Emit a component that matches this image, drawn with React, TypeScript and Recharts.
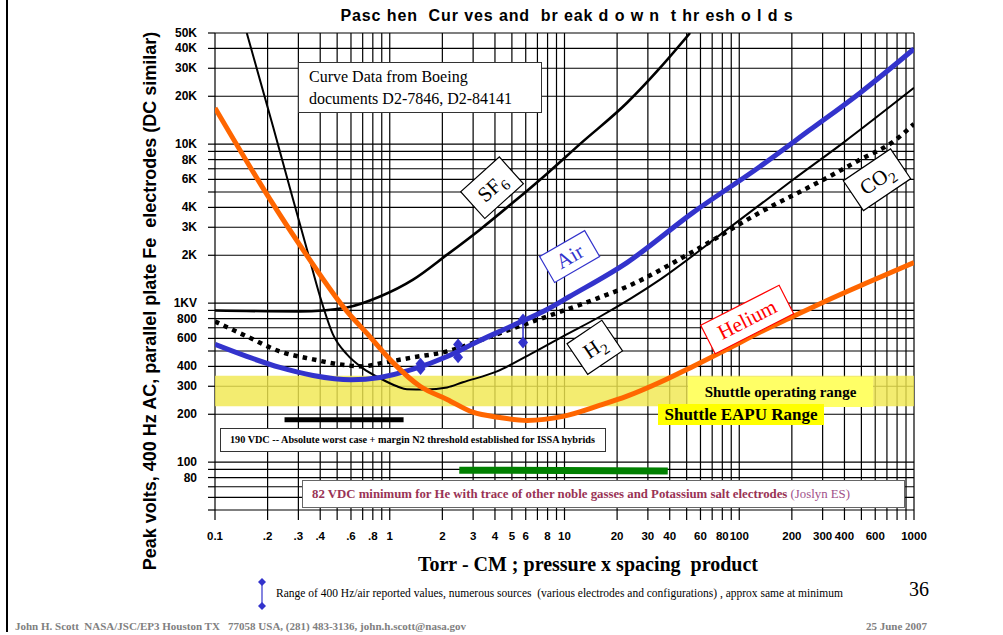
import React from "react";
import {
  LineChart,
  Line,
  XAxis,
  YAxis,
  CartesianGrid,
  ReferenceArea,
  ReferenceDot,
} from "recharts";

// Paschen curves (x = Torr-cm, y = peak volts)
const helium = [
  { x: 0.1, y: 16900 }, { x: 0.207, y: 4475 }, { x: 0.327, y: 2080 },
  { x: 0.569, y: 887 }, { x: 0.741, y: 645 }, { x: 1.04, y: 424 },
  { x: 1.49, y: 300 }, { x: 2.13, y: 248 }, { x: 2.99, y: 206 },
  { x: 4.27, y: 191 }, { x: 6.1, y: 183 }, { x: 9.8, y: 194 },
  { x: 16, y: 228 }, { x: 22.8, y: 260 }, { x: 35.2, y: 318 },
  { x: 54.3, y: 400 }, { x: 85, y: 512 }, { x: 131, y: 655 },
  { x: 203, y: 824 }, { x: 318, y: 1040 }, { x: 560, y: 1368 }, { x: 1000, y: 1800 },
];

const hydrogen = [
  { x: 0.152, y: 50000 }, { x: 0.215, y: 12850 }, { x: 0.268, y: 5320 },
  { x: 0.336, y: 2175 }, { x: 0.399, y: 1101 }, { x: 0.473, y: 636 },
  { x: 0.569, y: 476 }, { x: 0.703, y: 389 }, { x: 0.879, y: 337 },
  { x: 1.1, y: 300 }, { x: 1.255, y: 287 }, { x: 1.6, y: 286 },
  { x: 2.13, y: 295 }, { x: 2.62, y: 318 },
  { x: 4.11, y: 372 }, { x: 6.35, y: 476 }, { x: 9.8, y: 618 },
  { x: 16, y: 824 }, { x: 35.2, y: 1406 }, { x: 85, y: 2898 },
  { x: 203, y: 5970 }, { x: 393, y: 10190 }, { x: 1000, y: 22600 },
];

const sf6 = [
  { x: 0.1, y: 899 }, { x: 0.306, y: 887 }, { x: 0.569, y: 940 },
  { x: 0.879, y: 1101 }, { x: 1.36, y: 1406 }, { x: 2.13, y: 2018 },
  { x: 3.28, y: 2898 }, { x: 5.07, y: 4288 }, { x: 7.94, y: 6520 },
  { x: 12.3, y: 10040 }, { x: 22.8, y: 18200 }, { x: 35.2, y: 30150 },
  { x: 52.3, y: 50000 },
];

const air = [
  { x: 0.1, y: 550 }, { x: 0.152, y: 462 }, { x: 0.235, y: 394 },
  { x: 0.364, y: 351 }, { x: 0.6, y: 330 },
  { x: 0.879, y: 341 }, { x: 1.36, y: 384 }, { x: 2.13, y: 462 },
  { x: 3.28, y: 583 }, { x: 5.07, y: 724 }, { x: 7.94, y: 912 },
  { x: 10.7, y: 1101 }, { x: 22.8, y: 1800 }, { x: 54.3, y: 3710 },
  { x: 131, y: 7210 }, { x: 254, y: 12300 }, { x: 491, y: 21000 },
  { x: 1000, y: 39700 },
];

const co2 = [
  { x: 0.1, y: 767 }, { x: 0.152, y: 618 }, { x: 0.235, y: 497 },
  { x: 0.364, y: 443 }, { x: 0.569, y: 406 }, { x: 0.703, y: 400 },
  { x: 0.879, y: 418 }, { x: 1.36, y: 456 }, { x: 2.13, y: 497 },
  { x: 3.28, y: 583 }, { x: 5.07, y: 693 }, { x: 7.94, y: 824 },
  { x: 15.3, y: 1069 }, { x: 22.8, y: 1270 }, { x: 54.3, y: 2108 },
  { x: 131, y: 3710 }, { x: 318, y: 6150 }, { x: 491, y: 7980 },
  { x: 759, y: 10350 }, { x: 1000, y: 13400 },
];

// reported 400 Hz air ranges (low / high at one pd)
const airRanges = [
  [{ x: 1.5, y: 385 }, { x: 1.5, y: 415 }],
  [{ x: 2.46, y: 456 }, { x: 2.46, y: 550 }],
  [{ x: 5.79, y: 566 }, { x: 5.79, y: 789 }],
];

// threshold bars
const issaBar = [{ x: 0.25, y: 185 }, { x: 1.2, y: 185 }];
const heliumBar = [{ x: 2.5, y: 89 }, { x: 39, y: 88 }];
const shuttleBand = { lo: 225, hi: 350 };

const xTicks = [
  0.1, 0.2, 0.3, 0.4, 0.5, 0.6, 0.7, 0.8, 0.9,
  1, 2, 3, 4, 5, 6, 7, 8, 9,
  10, 20, 30, 40, 50, 60, 70, 80, 90,
  100, 200, 300, 400, 500, 600, 700, 800, 900, 1000,
];
const xLabels: Record<string, string> = {
  "0.1": "0.1", "0.2": ".2", "0.3": ".3", "0.4": ".4", "0.6": ".6", "0.8": ".8",
  "1": "1", "2": "2", "3": "3", "4": "4", "5": "5", "6": "6", "8": "8",
  "10": "10", "20": "20", "30": "30", "40": "40", "60": "60", "80": "80",
  "100": "100", "200": "200", "300": "300", "400": "400", "600": "600", "1000": "1000",
};

const yTicks = [
  50, 60, 70, 80, 90, 100, 200, 300, 400, 500, 600, 700, 800, 900,
  1000, 2000, 3000, 4000, 5000, 6000, 7000, 8000, 9000,
  10000, 20000, 30000, 40000, 50000,
];
const yLabels: Record<string, string> = {
  "50000": "50K", "40000": "40K", "30000": "30K", "20000": "20K",
  "10000": "10K", "8000": "8K", "6000": "6K", "4000": "4K", "3000": "3K",
  "2000": "2K", "1000": "1KV", "800": "800", "600": "600", "400": "400",
  "300": "300", "200": "200", "100": "100", "80": "80",
};

const curveTags = [
  { key: "sf6", x: 3.85, y: 5320, angle: -42, w: 52, h: 36, color: "#000", main: "SF", sub: "6" },
  { key: "air", x: 10.7, y: 1963, angle: -30, w: 52, h: 30, color: "#3333CC", main: "Air", sub: "" },
  { key: "co2", x: 614, y: 5970, angle: -34, w: 57, h: 36, color: "#000", main: "CO", sub: "2" },
  { key: "h2", x: 14.9, y: 527, angle: -34, w: 42, h: 37, color: "#000", main: "H", sub: "2" },
  { key: "he", x: 111, y: 789, angle: -27, w: 88, h: 32, color: "#FF0000", main: "Helium", sub: "" },
];

const SANS = "'Liberation Sans', Arial, sans-serif";
const SERIF = "'Liberation Serif', 'Times New Roman', serif";

const XTick = ({ x, y, payload }: any) => {
  const label = xLabels[String(payload.value)];
  if (!label) return <g />;
  return (
    <text x={x} y={y} dy={18} textAnchor="middle" fontFamily={SANS} fontWeight="bold" fontSize={11.5} fill="#000">
      {label}
    </text>
  );
};

const YTick = ({ x, y, payload }: any) => {
  const label = yLabels[String(payload.value)];
  if (!label) return <g />;
  return (
    <text x={x} y={y} dy={4} textAnchor="end" fontFamily={SANS} fontWeight="bold" fontSize={12} fill="#000">
      {label}
    </text>
  );
};

const Diamond = (props: any) => {
  const { cx, cy, index } = props;
  if (cx == null || cy == null) return <g key={index} />;
  return (
    <path key={index} d={`M${cx},${cy - 6} L${cx + 5},${cy} L${cx},${cy + 6} L${cx - 5},${cy} Z`} fill="#3333CC" />
  );
};

const CurveTag = ({ cx, cy, tag }: any) => (
  <g transform={`translate(${cx},${cy}) rotate(${tag.angle})`}>
    <rect x={-tag.w / 2} y={-tag.h / 2} width={tag.w} height={tag.h} fill="#fff" stroke={tag.color} strokeWidth={1.2} />
    <text textAnchor="middle" dy={7} fill={tag.color} fontFamily={SERIF} fontSize={21}>
      {tag.main}
      {tag.sub ? (
        <tspan fontSize={15} dy={5}>{tag.sub}</tspan>
      ) : null}
    </text>
  </g>
);

const abs = (s: React.CSSProperties): React.CSSProperties => ({ position: "absolute", ...s });

export default function App() {
  return (
    <div style={abs({ left: 0, top: 0, width: 1003, height: 635, background: "#fff", overflow: "hidden" })}>
      <LineChart
        width={1003}
        height={635}
        margin={{ top: 33, right: 89, bottom: 95, left: 155 }}
      >
        <CartesianGrid stroke="#000" strokeWidth={1.2} />
        <XAxis
          type="number"
          dataKey="x"
          scale="log"
          domain={[0.1, 1000]}
          ticks={xTicks}
          interval={0}
          allowDataOverflow
          axisLine={false}
          tickLine={{ stroke: "#000", strokeWidth: 1.2 }}
          tickSize={10}
          tickMargin={2}
          height={30}
          tick={XTick}
        />
        <YAxis
          type="number"
          dataKey="y"
          scale="log"
          domain={[50, 50000]}
          ticks={yTicks}
          interval={0}
          allowDataOverflow
          axisLine={false}
          tickLine={{ stroke: "#000", strokeWidth: 1.2 }}
          tickSize={7}
          tickMargin={11}
          width={60}
          tick={YTick}
        />
        <ReferenceArea
          x1={0.1}
          x2={1000}
          y1={shuttleBand.lo}
          y2={shuttleBand.hi}
          fill="#F0E850"
          fillOpacity={0.82}
          stroke="none"
        />
        <Line data={sf6} dataKey="y" type="monotone" stroke="#000" strokeWidth={2.6} dot={false} isAnimationActive={false} />
        <Line data={hydrogen} dataKey="y" type="monotone" stroke="#000" strokeWidth={2} dot={false} isAnimationActive={false} />
        <Line data={co2} dataKey="y" type="monotone" stroke="#000" strokeWidth={4.5} strokeDasharray="4.5 5" dot={false} isAnimationActive={false} />
        <Line data={air} dataKey="y" type="monotone" stroke="#3333CC" strokeWidth={5} dot={false} isAnimationActive={false} />
        <Line data={helium} dataKey="y" type="monotone" stroke="#FF6600" strokeWidth={5} dot={false} isAnimationActive={false} />
        {airRanges.map((r, i) => (
          <Line key={`ar${i}`} data={r} dataKey="y" type="linear" stroke="#3333CC" strokeWidth={1.5} dot={Diamond} isAnimationActive={false} />
        ))}
        <Line data={issaBar} dataKey="y" type="linear" stroke="#000" strokeWidth={5} dot={false} isAnimationActive={false} />
        <Line data={heliumBar} dataKey="y" type="linear" stroke="#008000" strokeWidth={7} dot={false} isAnimationActive={false} />
        {curveTags.map((t) => (
          <ReferenceDot
            key={t.key}
            x={t.x}
            y={t.y}
            r={0}
            ifOverflow="visible"
            shape={(p: any) => <CurveTag cx={p.cx} cy={p.cy} tag={t} />}
          />
        ))}
      </LineChart>

      {/* frame line on the left of the slide */}
      <div style={abs({ left: 6, top: 0, width: 2, height: 632, background: "#000" })} />

      <div style={abs({ left: 267, top: 7, width: 600, textAlign: "center", fontFamily: SANS, fontWeight: "bold", fontSize: 16, letterSpacing: 0.9, whiteSpace: "pre" })}>
        Pasc hen  Cur ves and  br eak d o w n  t hr esh o l d s
      </div>

      <div
        style={abs({
          left: 150, top: 301, transform: "translate(-50%, -50%) rotate(-90deg)",
          whiteSpace: "pre", fontFamily: SANS, fontWeight: "bold", fontSize: 18,
        })}
      >
        Peak volts, 400 Hz AC, parallel plate Fe  electrodes (DC similar)
      </div>

      <div style={abs({ left: 388, top: 553, width: 400, textAlign: "center", fontFamily: SERIF, fontWeight: "bold", fontSize: 20, whiteSpace: "pre" })}>
        Torr - CM ; pressure x spacing  product
      </div>

      {/* annotation boxes */}
      <div style={abs({ left: 298, top: 62, width: 244, height: 51, background: "#fff", border: "1px solid #333", fontFamily: SERIF, fontSize: 16, lineHeight: "22px", padding: "3px 0 0 10px", boxSizing: "border-box" })}>
        Curve Data from Boeing
        <br />
        documents D2-7846, D2-84141
      </div>

      <div style={abs({ left: 688, top: 377, width: 185, height: 30, background: "#FFFF66", fontFamily: SERIF, fontWeight: "bold", fontSize: 15, lineHeight: "30px", textAlign: "center" })}>
        Shuttle operating range
      </div>
      <div style={abs({ left: 658, top: 404, width: 166, height: 21, background: "#FFFF00", fontFamily: SERIF, fontWeight: "bold", fontSize: 17, lineHeight: "21px", textAlign: "center" })}>
        Shuttle EAPU Range
      </div>

      <div style={abs({ left: 220, top: 428, width: 386, height: 24, background: "#fff", border: "1px solid #333", boxSizing: "border-box", fontFamily: SERIF, fontWeight: "bold", fontSize: 10.2, lineHeight: "22px", paddingLeft: 9, whiteSpace: "pre" })}>
        190 VDC -- Absolute worst case + margin N2 threshold established for ISSA hybrids
      </div>

      <div style={abs({ left: 302, top: 480, width: 603, height: 28, background: "#fff", border: "1px solid #666", boxSizing: "border-box", fontFamily: SERIF, fontSize: 12.8, lineHeight: "26px", paddingLeft: 9, color: "#993355", whiteSpace: "pre" })}>
        <b>82 VDC minimum for He with trace of other noble gasses and Potassium salt electrodes</b>
        <span style={{ color: "#A0508A" }}> (Joslyn ES)</span>
      </div>

      {/* legend for the reported air ranges */}
      <svg style={abs({ left: 255, top: 578, width: 14, height: 32 })}>
        <line x1={7} y1={4} x2={7} y2={28} stroke="#3333CC" strokeWidth={1.2} />
        <path d="M7,0 L11,4 L7,8 L3,4 Z" fill="#3333CC" />
        <path d="M7,24 L11,28 L7,32 L3,28 Z" fill="#3333CC" />
      </svg>
      <div style={abs({ left: 276, top: 587, fontFamily: SERIF, fontSize: 11.5, whiteSpace: "pre" })}>
        Range of 400 Hz/air reported values, numerous sources  (various electrodes and configurations) , approx same at minimum
      </div>
      <div style={abs({ left: 909, top: 578, fontFamily: SERIF, fontSize: 20 })}>36</div>

      <div style={abs({ left: 15, top: 620, fontFamily: SERIF, fontWeight: "bold", fontSize: 11, color: "#808080", whiteSpace: "pre" })}>
        John H. Scott  NASA/JSC/EP3 Houston TX   77058 USA, (281) 483-3136, john.h.scott@nasa.gov
      </div>
      <div style={abs({ left: 866, top: 620, fontFamily: SERIF, fontWeight: "bold", fontSize: 11, color: "#808080" })}>
        25 June 2007
      </div>
    </div>
  );
}
